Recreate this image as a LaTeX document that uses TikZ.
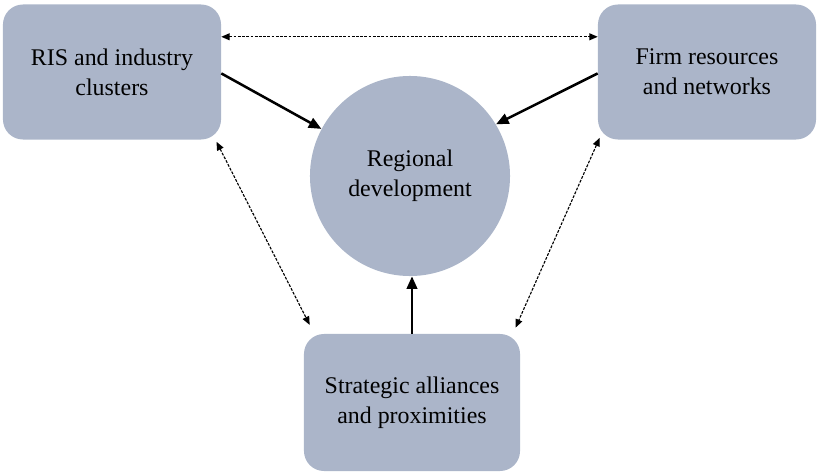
\documentclass[tikz,border=0pt]{standalone}
\usepackage{fontspec}
\setmainfont{Liberation Serif}
\usetikzlibrary{arrows.meta}

\definecolor{boxblue}{HTML}{ABB5C9}

\begin{document}
\begin{tikzpicture}[x=0.025cm, y=-0.025cm,
        block/.style={fill=boxblue, rounded corners=0.5cm, minimum width=5.45cm, minimum height=3.375cm, align=center, inner sep=0pt, font=\fontsize{17}{21.3}\selectfont},
        hub/.style={circle, fill=boxblue, minimum size=5cm, align=center, inner sep=0pt, font=\fontsize{17}{21.3}\selectfont},
        link/.style={-{Triangle[length=9pt, width=7.5pt]}, line width=1.8pt},
        tie/.style={{Triangle[length=6pt, width=5pt]}-{Triangle[length=6pt, width=5pt]}, line width=0.8pt, dash pattern=on 2pt off 1pt}]

        \useasboundingbox (0, 0) rectangle (818, 474);

        % the four parts
        \node[block] (ris) at (112, 72) {RIS and industry\\clusters};
        \node[block] (firm) at (707, 72) {Firm resources\\and networks};
        \node[block, minimum width=5.4cm, minimum height=3.425cm] (strat) at (412, 402.5) {Strategic alliances\\and proximities};
        \node[hub] (dev) at (410, 176) {Regional\\development};

        % effects on development
        \draw[link] ([yshift=-1pt]ris.east) -- (dev.152);
        \draw[link] ([yshift=-1pt]firm.west) -- (dev.31);
        \draw[link] (strat.north) -- (strat.north |- dev.south);

        % links between the parts
        \draw[tie] ([yshift=0.88cm]ris.east) -- ([yshift=0.88cm]firm.west);
        \draw[tie] ([xshift=-0.12cm, yshift=-0.05cm]ris.south east) -- ([xshift=0.15cm, yshift=0.22cm]strat.north west);
        \draw[tie] ([xshift=0.05cm, yshift=0.05cm]firm.south west) -- ([xshift=-0.12cm, yshift=0.15cm]strat.north east);
    \end{tikzpicture}
\end{document}
